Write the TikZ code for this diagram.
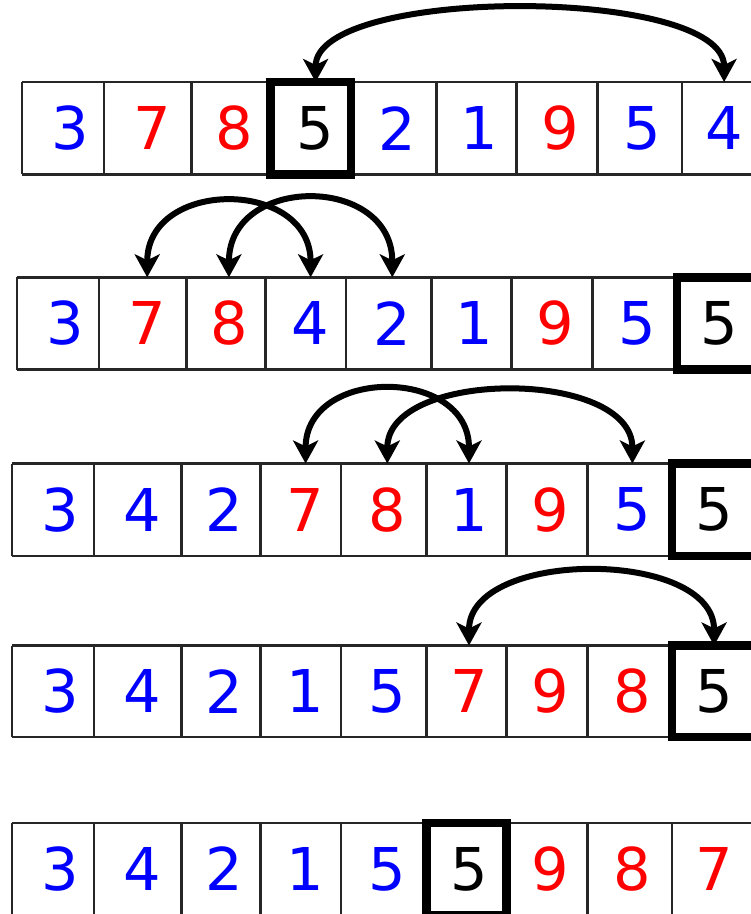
\documentclass[tikz,border=0pt]{standalone}
\usepackage{fontspec}
\setmainfont{DejaVu Sans}
\usetikzlibrary{arrows.meta}
\tikzset{
  cellline/.style={draw=black!85, line width=2.6pt},
  pivotbox/.style={draw=black, line width=8.5pt},
  digit/.style={font=\fontsize{59}{59}\selectfont, inner sep=0pt},
  swaparc/.style={draw=black, line width=6pt,
    {Stealth[length=23pt,width=25pt,inset=6pt]}-{Stealth[length=23pt,width=25pt,inset=6pt]}},
}
% #1 row name, #2 x offset, #3 top, #4 bottom, #5 pivot index, #6 digits
\newcommand\qsrow[6]{%
  \draw[cellline] ({12+#2},#3) -- (800,#3);
  \draw[cellline] ({12+#2},#4) -- (800,#4);
  \foreach \b in {12,93.8,181.3,260.3,340.8,426.5,506.5,587.5,672,755}
    \draw[cellline] ({\b+#2},#3) -- ({\b+#2},#4);
  \pgfmathsetmacro\qsl{{12,93.8,181.3,260.3,340.8,426.5,506.5,587.5,672,755,838}[#5]+#2}
  \pgfmathsetmacro\qsr{{12,93.8,181.3,260.3,340.8,426.5,506.5,587.5,672,755,838}[#5+1]+#2}
  \draw[pivotbox] (\qsl,#3) rectangle (\qsr,#4);
  \foreach \d/\c [count=\i from 0] in {#6}{
    \node[digit,text=\c] (#1d\i) at ({60.5+81.7*\i+#2},{(#3+#4)/2}) {\d};
    \coordinate (#1t\i) at ({60.5+81.7*\i+#2},#3);
  }
}
\begin{document}
\begin{tikzpicture}[x=1pt,y=-1pt]
\useasboundingbox (0,0) rectangle (751,914);
\clip (0,0) rectangle (751,914);
\qsrow{a}{10}{82}{174.3}{3}{3/blue,7/red,8/red,5/black,2/blue,1/blue,9/red,5/blue,4/blue}
\qsrow{b}{5}{277.3}{369.5}{8}{3/blue,7/red,8/red,4/blue,2/blue,1/blue,9/red,5/blue,5/black}
\qsrow{c}{0}{463.5}{556}{8}{3/blue,4/blue,2/blue,7/red,8/red,1/blue,9/red,5/blue,5/black}
\qsrow{d}{0}{645.5}{737}{8}{3/blue,4/blue,2/blue,1/blue,5/blue,7/red,9/red,8/red,5/black}
\qsrow{e}{0}{823}{915}{5}{3/blue,4/blue,2/blue,1/blue,5/blue,5/black,9/red,8/red,7/red}
\draw[swaparc] (at3) .. controls +(0,-96) and +(0,-96) .. (at8);
\draw[swaparc] (bt1) .. controls +(0,-99) and +(0,-99) .. (bt3);
\draw[swaparc] (bt2) .. controls +(0,-103) and +(0,-103) .. (bt4);
\draw[swaparc] (ct3) .. controls +(0,-97) and +(0,-97) .. (ct5);
\draw[swaparc] (ct4) .. controls +(0,-95) and +(0,-95) .. (ct7);
\draw[swaparc] (dt5) .. controls +(0,-97) and +(0,-97) .. (dt8);
\end{tikzpicture}
\end{document}
